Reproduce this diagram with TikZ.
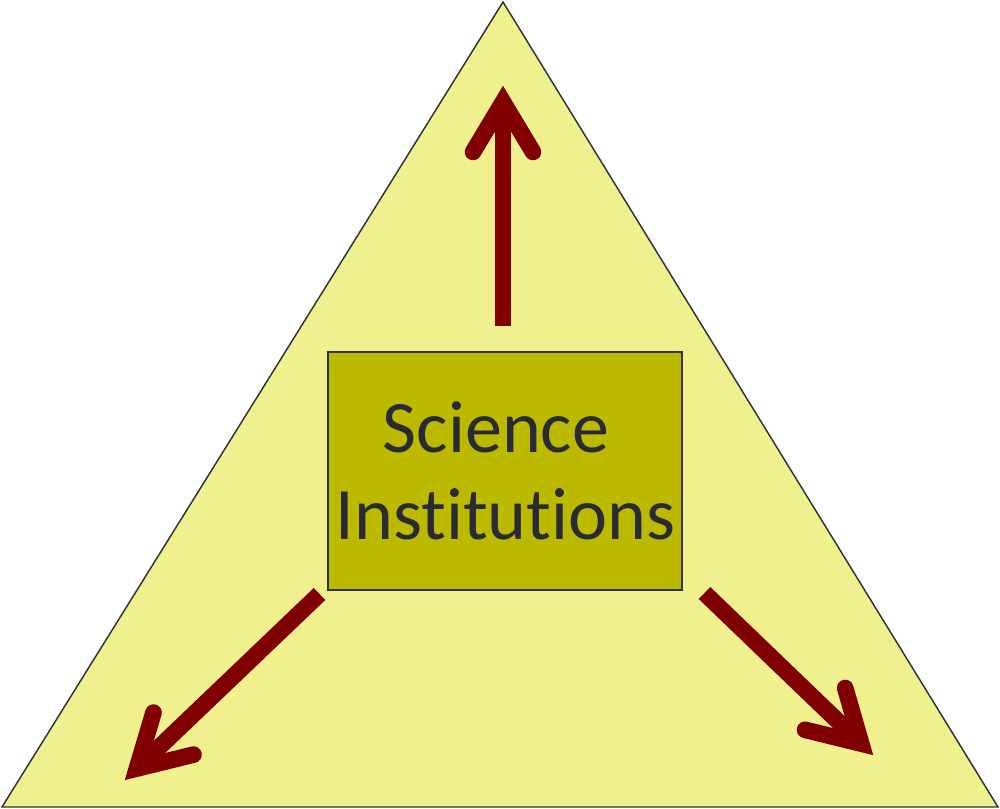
\documentclass[tikz,border=0pt]{standalone}
\usepackage{fontspec}
\setmainfont{Carlito}[Ligatures=NoCommon]
\definecolor{trifill}{RGB}{240,240,143}
\definecolor{boxfill}{RGB}{187,185,0}
\definecolor{arrowred}{RGB}{128,0,0}
\definecolor{edgegray}{RGB}{50,50,55}
\definecolor{textgray}{RGB}{42,42,52}
\tikzset{
  shaftline/.style={draw=arrowred, line width=12.5pt, line cap=butt},
  headline/.style={draw=arrowred, line width=12.5pt, line cap=round, line join=miter, miter limit=20},
  boxstyle/.style={draw=edgegray, line width=1.1pt, fill=boxfill, rectangle, inner sep=0pt, minimum width=354*0.75pt, minimum height=238*0.75pt},
  labeltext/.style={font=\fontsize{55.5}{65}\selectfont, text=textgray, inner sep=0pt, anchor=base}
}
\begin{document}
\begin{tikzpicture}[x=0.75pt,y=-0.75pt]
\useasboundingbox (0,0) rectangle (1000,809);
% triangle
\draw[draw=edgegray, line width=1.1pt, fill=trifill, line join=miter] (503,2) -- (2,807) -- (998,807) -- cycle;
% box
\node[boxstyle] (box) at (505,471) {};
\node[labeltext] (l1) at (496,452) {Science};
\node[labeltext] (l2) at (505.5,539) {Institutions};
% up arrow
\coordinate (ut) at (503,326);
\coordinate (us) at (503,112);
\coordinate (uv) at (503,102);
\coordinate (ua) at (473,152);
\coordinate (ub) at (533,152);
\draw[shaftline] (ut) -- (us);
\draw[headline] (ua) -- (uv) -- (ub);
% left arrow
\coordinate (lt) at (319.5,594);
\coordinate (ls) at (144.1,761.6);
\coordinate (lv) at (136.9,768.5);
\coordinate (la) at (153.5,712.6);
\coordinate (lb) at (193.5,754.6);
\draw[shaftline] (lt) -- (ls);
\draw[headline] (la) -- (lv) -- (lb);
% right arrow
\coordinate (rt) at (704.5,593);
\coordinate (rs) at (854.0,736.7);
\coordinate (rv) at (861.2,743.6);
\coordinate (ra) at (845.2,688);
\coordinate (rb) at (805,729.8);
\draw[shaftline] (rt) -- (rs);
\draw[headline] (ra) -- (rv) -- (rb);
\end{tikzpicture}
\end{document}
